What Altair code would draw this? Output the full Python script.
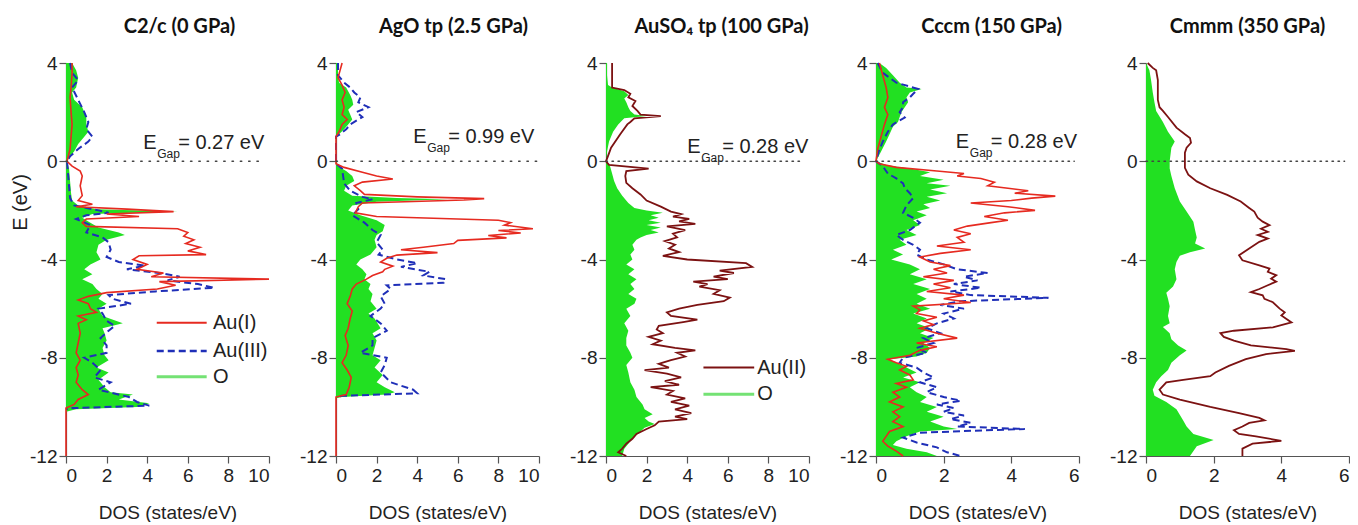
import altair as alt
import pandas as pd

# ---------------- data: (E in eV, DOS in states/eV) ----------------
P1_O = [(4.0,0.3),(3.7,0.5),(3.4,0.6),(3.0,0.5),(2.8,0.3),(2.5,0.4),(2.2,0.8),(1.8,1.0),(1.5,1.0),(1.2,1.1),
        (1.0,0.9),(0.7,0.6),(0.4,0.4),(0.2,0.2),(0.0,0.05),(-0.3,0.15),(-0.8,0.2),(-1.3,0.25),(-1.6,0.3),(-1.8,0.6),
        (-1.95,1.5),(-2.05,5.5),(-2.15,1.3),(-2.3,0.8),(-2.5,1.2),(-2.7,1.6),(-2.9,2.6),(-3.0,2.9),(-3.2,2.0),(-3.4,1.6),
        (-3.7,1.5),(-4.0,1.7),(-4.2,1.2),(-4.4,0.9),(-4.6,1.3),(-4.8,0.8),(-5.0,1.3),(-5.2,1.5),(-5.4,1.8),(-5.6,1.6),
        (-5.8,2.0),(-6.0,1.6),(-6.3,1.8),(-6.6,2.8),(-6.8,1.8),(-7.0,1.9),(-7.3,2.0),(-7.6,1.8),(-7.9,1.9),(-8.1,2.1),
        (-8.4,1.5),(-8.6,2.1),(-8.9,1.6),(-9.2,1.9),(-9.4,2.2),(-9.5,3.3),(-9.7,2.6),(-9.85,4.1),(-10.0,3.5),(-10.1,0.5),
        (-10.2,0.0),(-12.0,0.0)]
P1_AU1 = [(4.0,0.3),(3.6,0.3),(3.0,0.25),(2.6,0.2),(2.0,0.25),(1.5,0.3),(1.0,0.25),(0.5,0.2),(0.0,0.05),(-0.2,0.3),
          (-0.4,0.7),(-0.6,0.8),(-1.0,0.7),(-1.4,0.8),(-1.6,0.6),(-1.75,1.3),(-1.85,0.5),(-1.95,3.0),(-2.05,5.3),(-2.15,2.0),
          (-2.25,3.6),(-2.35,1.0),(-2.5,0.8),(-2.65,1.0),(-2.75,5.5),(-2.9,6.0),(-3.05,5.8),(-3.2,6.3),(-3.35,5.9),(-3.5,6.6),
          (-3.65,6.0),(-3.8,6.9),(-3.85,3.6),(-4.0,3.3),(-4.2,4.0),(-4.4,3.5),(-4.55,4.8),(-4.7,4.2),(-4.8,10.0),(-4.9,4.6),
          (-5.05,5.4),(-5.2,4.5),(-5.35,2.0),(-5.5,1.1),(-5.65,0.6),(-5.8,1.1),(-6.0,1.2),(-6.15,1.5),(-6.3,0.6),(-6.45,1.0),
          (-6.6,0.6),(-7.0,0.7),(-7.4,0.6),(-7.8,0.5),(-8.1,0.7),(-8.4,0.5),(-8.7,0.6),(-9.0,0.5),(-9.3,0.8),(-9.5,1.1),
          (-9.7,0.6),(-9.9,0.4),(-10.05,0.0),(-12.0,0.0)]
P1_AU3 = [(4.0,0.2),(3.6,0.3),(3.3,0.6),(3.0,0.3),(2.5,0.6),(2.0,0.9),(1.6,1.1),(1.3,1.0),(1.0,1.3),(0.8,1.1),
          (0.5,0.6),(0.2,0.2),(0.0,0.05),(-0.5,0.1),(-1.0,0.15),(-1.5,0.2),(-1.8,0.4),(-2.0,1.6),(-2.1,2.1),(-2.2,1.0),
          (-2.35,0.5),(-2.6,1.2),(-2.9,1.0),(-3.1,1.8),(-3.3,2.1),(-3.6,2.2),(-3.9,2.0),(-4.1,2.6),(-4.25,3.9),(-4.4,3.0),
          (-4.55,4.6),(-4.7,5.6),(-4.85,5.0),(-5.0,6.5),(-5.15,7.3),(-5.3,4.4),(-5.45,2.1),(-5.6,2.3),(-5.8,3.2),(-6.0,1.6),
          (-6.2,1.8),(-6.5,2.0),(-6.7,2.4),(-6.9,2.1),(-7.2,1.7),(-7.5,2.0),(-7.8,2.0),(-8.0,0.9),(-8.2,1.3),(-8.5,1.7),
          (-8.8,1.4),(-9.0,2.2),(-9.3,1.6),(-9.6,3.1),(-9.8,3.5),(-9.95,4.1),(-10.05,0.3),(-10.1,0.0)]

P2_O = [(4.0,0.1),(3.5,0.1),(3.2,0.15),(3.0,0.5),(2.7,0.7),(2.5,0.8),(2.3,0.85),(2.1,0.6),(1.9,0.7),(1.7,0.8),
        (1.5,0.6),(1.3,0.4),(1.1,0.15),(1.0,0.0),(0.0,0.0),(-0.2,0.1),(-0.4,0.5),(-0.6,0.8),(-0.8,0.9),(-1.0,0.5),
        (-1.2,0.4),(-1.4,0.8),(-1.5,3.0),(-1.55,5.5),(-1.65,2.0),(-1.8,0.8),(-2.0,0.6),(-2.2,1.2),(-2.4,2.0),(-2.6,2.4),
        (-2.85,2.3),(-3.0,2.0),(-3.2,1.9),(-3.5,2.0),(-3.8,1.7),(-4.0,1.2),(-4.2,1.0),(-4.4,1.3),(-4.6,1.5),(-4.8,1.4),
        (-5.0,1.7),(-5.2,1.6),(-5.4,1.8),(-5.7,1.7),(-6.0,2.0),(-6.2,1.6),(-6.4,1.9),(-6.8,2.2),(-7.0,1.8),(-7.3,2.0),
        (-7.6,1.9),(-7.9,1.8),(-8.1,2.2),(-8.4,1.9),(-8.7,2.3),(-9.0,2.0),(-9.2,2.4),(-9.4,2.9),(-9.5,2.5),(-9.6,0.3),
        (-9.65,0.0),(-12.0,0.0)]
P2_AU1 = [(4.0,0.3),(3.7,0.2),(3.4,0.1),(3.1,0.3),(2.8,0.45),(2.5,0.3),(2.2,0.4),(1.9,0.3),(1.7,0.55),(1.5,0.3),
          (1.2,0.15),(1.0,0.0),(-0.1,0.0),(-0.25,0.4),(-0.45,1.3),(-0.6,2.0),(-0.72,2.8),(-0.85,1.3),(-1.0,0.9),(-1.2,1.2),
          (-1.35,1.4),(-1.45,4.0),(-1.52,7.3),(-1.58,6.3),(-1.7,1.3),(-1.85,1.1),(-2.1,0.95),(-2.25,2.0),(-2.4,8.0),(-2.5,8.6),
          (-2.6,8.3),(-2.75,9.7),(-2.82,8.0),(-2.92,9.1),(-3.02,7.5),(-3.12,8.4),(-3.22,6.0),(-3.35,5.8),(-3.5,4.3),(-3.6,3.2),
          (-3.72,5.0),(-3.82,3.0),(-3.95,2.5),(-4.1,2.2),(-4.27,2.8),(-4.4,2.4),(-4.5,2.3),(-4.65,1.8),(-4.8,1.5),(-5.0,1.0),
          (-5.2,0.8),(-5.5,0.7),(-5.8,0.55),(-6.1,0.8),(-6.4,0.7),(-6.8,0.6),(-7.1,0.45),(-7.5,0.6),(-7.9,0.5),(-8.2,0.3),
          (-8.5,0.55),(-8.8,0.75),(-9.2,0.65),(-9.5,0.5),(-9.6,0.0),(-12.0,0.0)]
P2_AU3 = [(4.0,0.1),(3.5,0.1),(3.2,0.4),(3.0,0.7),(2.8,0.9),(2.6,1.2),(2.4,1.1),(2.2,1.6),(2.0,1.0),(1.8,1.3),
          (1.7,1.1),(1.5,0.7),(1.3,0.5),(1.1,0.2),(1.0,0.0),(-0.1,0.0),(-0.3,0.3),(-0.6,0.35),(-0.9,0.4),(-1.2,0.7),
          (-1.45,1.3),(-1.55,1.8),(-1.7,1.0),(-1.95,1.1),(-2.2,0.8),(-2.5,1.4),(-2.8,1.8),(-3.0,2.2),(-3.3,2.0),(-3.6,2.3),
          (-3.8,2.1),(-4.0,3.0),(-4.15,4.0),(-4.3,3.2),(-4.5,4.6),(-4.65,4.3),(-4.8,5.4),(-4.95,5.3),(-5.05,2.5),(-5.2,2.7),
          (-5.5,2.2),(-5.8,2.4),(-6.0,2.2),(-6.3,1.7),(-6.6,2.2),(-6.9,2.5),(-7.2,1.8),(-7.5,1.8),(-7.8,1.2),(-8.0,2.5),
          (-8.3,2.4),(-8.6,2.2),(-9.0,2.7),(-9.3,3.8),(-9.45,4.0),(-9.55,0.3),(-9.6,0.0)]

P3_O = [(4.0,0.05),(3.5,0.05),(3.1,0.1),(3.0,0.3),(2.85,0.9),(2.7,1.1),(2.55,0.9),(2.4,1.0),(2.2,1.1),(2.05,1.2),
        (1.9,1.4),(1.84,2.0),(1.75,0.9),(1.5,0.6),(1.2,0.35),(0.8,0.15),(0.4,0.05),(0.0,0.0),(-0.2,0.2),(-0.5,0.3),
        (-0.8,0.4),(-1.1,0.55),(-1.4,0.8),(-1.7,1.1),(-1.9,1.4),(-2.0,2.0),(-2.1,2.8),(-2.2,2.2),(-2.3,2.6),(-2.4,2.1),
        (-2.5,2.7),(-2.6,2.0),(-2.7,2.7),(-2.8,2.2),(-2.9,2.6),(-3.0,2.0),(-3.1,1.7),(-3.2,1.5),(-3.4,1.3),(-3.6,1.4),
        (-3.8,1.2),(-4.0,1.3),(-4.2,1.0),(-4.4,1.4),(-4.6,1.1),(-4.8,1.5),(-5.0,1.2),(-5.2,1.4),(-5.4,1.1),(-5.6,1.5),
        (-5.8,1.4),(-6.0,1.0),(-6.3,1.2),(-6.6,0.9),(-6.9,1.1),(-7.2,1.0),(-7.5,1.0),(-7.8,1.2),(-8.0,1.3),(-8.3,1.0),
        (-8.6,1.1),(-9.0,1.2),(-9.3,1.4),(-9.6,1.5),(-9.9,1.8),(-10.1,1.9),(-10.3,2.3),(-10.45,1.9),(-10.6,2.1),(-10.7,2.4),
        (-10.85,1.9),(-11.0,1.7),(-11.3,1.3),(-11.7,0.9),(-12.0,0.8)]
P3_AU2 = [(4.0,0.3),(3.5,0.3),(3.0,0.3),(2.9,0.9),(2.75,1.2),(2.6,1.1),(2.45,1.45),(2.25,1.3),(2.05,1.55),(1.9,1.7),
          (1.84,2.7),(1.75,1.4),(1.6,1.2),(1.5,1.05),(1.1,0.7),(0.55,0.25),(0.15,0.07),(0.0,0.0),(-0.15,0.15),(-0.3,2.1),
          (-0.4,1.0),(-0.6,0.95),(-0.88,1.0),(-1.1,1.3),(-1.35,1.7),(-1.6,2.0),(-1.85,2.7),(-2.05,3.2),(-2.15,3.7),(-2.25,3.3),
          (-2.35,4.1),(-2.45,3.6),(-2.55,4.4),(-2.65,3.0),(-2.8,3.9),(-2.95,3.3),(-3.1,3.5),(-3.25,2.9),(-3.4,3.4),(-3.55,3.1),
          (-3.7,3.6),(-3.85,2.8),(-4.0,4.0),(-4.15,6.9),(-4.3,7.2),(-4.45,5.6),(-4.55,6.3),(-4.7,5.3),(-4.8,6.0),(-4.9,4.3),
          (-5.0,5.0),(-5.1,4.6),(-5.25,5.6),(-5.4,5.3),(-5.55,6.1),(-5.7,5.8),(-5.85,4.5),(-6.0,3.6),(-6.15,3.0),(-6.3,3.2),
          (-6.45,4.5),(-6.55,3.8),(-6.7,2.6),(-6.85,2.5),(-7.0,2.8),(-7.15,2.1),(-7.3,2.7),(-7.45,2.3),(-7.6,3.4),(-7.7,4.4),
          (-7.8,3.5),(-7.95,3.9),(-8.1,3.2),(-8.25,2.6),(-8.4,3.1),(-8.5,1.9),(-8.65,3.0),(-8.8,3.7),(-8.95,2.9),(-9.1,3.6),
          (-9.2,2.2),(-9.35,3.3),(-9.5,3.0),(-9.65,3.9),(-9.8,3.2),(-9.95,4.1),(-10.1,3.4),(-10.25,4.2),(-10.4,3.4),(-10.5,4.0),
          (-10.6,2.6),(-10.75,2.4),(-10.9,2.0),(-11.1,1.5),(-11.3,1.3),(-11.5,1.0),(-11.7,0.8),(-11.85,0.6),(-12.0,1.0)]

P4_O = [(4.0,0.1),(3.8,0.3),(3.5,0.5),(3.2,0.7),(3.0,0.9),(2.94,1.35),(2.8,1.0),(2.6,0.9),(2.4,0.95),(2.2,0.85),
        (2.0,0.75),(1.8,0.7),(1.6,0.65),(1.4,0.5),(1.1,0.4),(0.8,0.3),(0.4,0.15),(0.0,0.0),(-0.15,0.3),(-0.3,1.0),
        (-0.45,1.6),(-0.6,1.3),(-0.75,2.0),(-0.9,1.5),(-1.0,2.2),(-1.15,1.6),(-1.3,2.1),(-1.45,1.5),(-1.6,1.9),(-1.75,1.4),
        (-1.9,1.6),(-2.05,1.2),(-2.2,1.5),(-2.4,1.1),(-2.6,1.3),(-2.8,0.9),(-3.0,1.2),(-3.2,0.7),(-3.4,0.9),(-3.6,0.5),
        (-3.8,0.8),(-4.0,0.45),(-4.2,1.0),(-4.4,1.3),(-4.6,1.0),(-4.8,1.5),(-5.0,1.1),(-5.2,1.6),(-5.4,1.2),(-5.6,1.5),
        (-5.8,1.2),(-6.0,1.6),(-6.2,1.1),(-6.4,1.5),(-6.6,1.2),(-6.8,1.6),(-7.0,1.3),(-7.2,1.7),(-7.4,1.4),(-7.6,1.6),
        (-7.8,1.5),(-7.95,1.2),(-8.06,0.4),(-8.2,0.6),(-8.4,0.9),(-8.6,1.2),(-8.8,0.8),(-9.0,1.3),(-9.2,1.0),(-9.4,1.2),
        (-9.6,1.5),(-9.8,1.3),(-10.0,1.8),(-10.2,1.5),(-10.4,2.0),(-10.6,1.6),(-10.8,2.0),(-10.9,2.4),(-11.0,1.3),(-11.2,0.9),
        (-11.4,0.6),(-11.55,0.5),(-11.7,0.9),(-11.85,1.5),(-12.0,1.8)]
P4_AU1 = [(4.0,0.1),(3.5,0.2),(3.0,0.3),(2.6,0.35),(2.2,0.25),(1.9,0.35),(1.5,0.25),(1.0,0.15),(0.5,0.05),(0.0,0.0),
          (-0.1,0.1),(-0.25,0.6),(-0.4,1.8),(-0.5,2.6),(-0.6,2.4),(-0.7,3.1),(-0.85,3.5),(-1.0,3.3),(-1.1,3.9),(-1.2,4.5),
          (-1.3,4.1),(-1.42,5.3),(-1.5,4.6),(-1.6,4.0),(-1.7,2.8),(-1.85,3.9),(-2.0,4.7),(-2.1,3.8),(-2.25,3.2),(-2.4,3.9),
          (-2.5,3.4),(-2.64,2.7),(-2.8,2.3),(-2.95,2.8),(-3.1,2.4),(-3.3,2.6),(-3.45,1.8),(-3.6,2.8),(-3.75,1.9),(-3.9,1.3),
          (-4.1,1.6),(-4.25,2.2),(-4.4,1.7),(-4.55,2.1),(-4.7,1.4),(-4.85,2.3),(-5.0,1.7),(-5.15,2.2),(-5.3,1.5),(-5.45,2.6),
          (-5.6,2.0),(-5.75,2.8),(-5.9,1.1),(-6.05,1.3),(-6.2,1.2),(-6.35,1.8),(-6.5,1.4),(-6.65,1.7),(-6.8,1.3),(-7.0,1.8),
          (-7.2,2.4),(-7.4,1.2),(-7.55,1.8),(-7.7,1.3),(-7.9,1.0),(-8.06,0.35),(-8.2,0.6),(-8.35,0.9),(-8.5,0.7),(-8.7,1.0),
          (-8.9,1.1),(-9.05,0.6),(-9.2,0.9),(-9.4,0.5),(-9.6,0.7),(-9.8,0.4),(-10.0,0.8),(-10.2,0.5),(-10.4,0.7),(-10.6,0.5),
          (-10.8,0.8),(-11.0,0.4),(-11.2,0.3),(-11.4,0.2),(-11.6,0.35),(-11.8,0.6),(-12.0,0.8)]
P4_AU3 = [(4.0,0.05),(3.6,0.2),(3.2,0.6),(2.94,1.25),(2.75,1.1),(2.6,1.0),(2.4,0.8),(2.2,0.8),(2.0,0.7),(1.78,0.85),
          (1.5,0.5),(1.2,0.35),(0.8,0.2),(0.4,0.08),(0.0,0.0),(-0.2,0.2),(-0.5,0.35),(-0.7,0.6),(-0.9,0.8),(-1.1,0.85),
          (-1.3,1.0),(-1.5,1.1),(-1.8,0.9),(-2.1,0.8),(-2.3,1.1),(-2.5,1.3),(-2.8,1.0),(-3.0,0.6),(-3.2,0.8),(-3.4,1.1),
          (-3.6,1.3),(-3.8,1.2),(-4.0,1.5),(-4.2,2.0),(-4.4,2.4),(-4.55,3.3),(-4.7,2.6),(-4.85,3.0),(-5.0,2.3),(-5.15,3.1),
          (-5.3,2.2),(-5.45,2.8),(-5.56,5.1),(-5.7,2.5),(-5.85,1.9),(-6.0,2.6),(-6.2,2.0),(-6.4,2.3),(-6.6,1.8),(-6.8,1.5),
          (-7.0,1.9),(-7.2,1.4),(-7.4,1.7),(-7.6,1.2),(-7.8,1.5),(-8.0,0.8),(-8.2,0.7),(-8.4,1.2),(-8.6,1.4),(-8.8,1.7),
          (-9.0,1.3),(-9.2,1.8),(-9.4,1.5),(-9.6,2.0),(-9.75,2.5),(-9.9,1.8),(-10.05,2.3),(-10.2,2.0),(-10.35,2.6),(-10.5,2.2),
          (-10.65,2.8),(-10.8,2.4),(-10.9,4.4),(-11.05,1.3),(-11.25,0.8),(-11.45,1.2),(-11.65,1.8),(-11.85,2.1),(-12.0,2.5)]

P5_O = [(4.0,0.0),(3.7,0.1),(3.3,0.15),(2.8,0.2),(2.4,0.25),(2.05,0.3),(1.6,0.5),(1.2,0.65),(0.8,0.85),(0.55,0.75),
        (0.0,0.7),(-0.3,0.7),(-0.6,0.75),(-1.1,0.85),(-1.64,1.0),(-2.05,1.2),(-2.46,1.4),(-2.8,1.45),(-3.1,1.5),(-3.35,1.45),
        (-3.55,1.75),(-3.7,1.3),(-3.85,1.0),(-4.1,0.9),(-4.4,0.85),(-4.8,0.9),(-5.1,0.8),(-5.35,0.6),(-5.6,0.65),(-5.9,0.7),
        (-6.3,0.65),(-6.6,0.7),(-6.75,0.5),(-7.0,0.7),(-7.25,0.75),(-7.5,0.95),(-7.7,1.2),(-7.9,1.0),(-8.2,0.75),(-8.5,0.65),
        (-8.75,0.45),(-9.0,0.3),(-9.3,0.2),(-9.55,0.25),(-9.8,0.6),(-10.1,0.9),(-10.55,1.1),(-10.8,1.2),(-11.1,1.4),(-11.35,2.0),
        (-11.6,1.5),(-12.0,1.3)]
P5_AU2 = [(4.0,0.05),(3.8,0.2),(3.7,0.3),(3.3,0.35),(2.5,0.35),(2.2,0.4),(2.05,0.5),(1.8,0.65),(1.37,0.9),(1.1,1.15),
          (0.95,1.3),(0.75,1.33),(0.55,1.2),(0.35,1.15),(-0.27,1.15),(-0.55,1.25),(-0.82,1.5),(-1.1,1.9),(-1.37,2.4),(-1.64,2.8),
          (-1.9,3.05),(-2.05,3.2),(-2.3,3.3),(-2.46,3.45),(-2.6,3.65),(-2.75,3.4),(-2.87,3.6),(-3.0,3.3),(-3.15,3.6),(-3.28,3.35),
          (-3.55,3.05),(-3.83,2.75),(-4.03,2.85),(-4.24,3.35),(-4.37,3.65),(-4.5,3.6),(-4.64,3.85),(-4.78,3.7),(-4.9,3.85),(-5.05,3.6),
          (-5.2,3.35),(-5.33,3.1),(-5.46,3.45),(-5.6,3.5),(-5.74,3.75),(-6.0,3.95),(-6.15,4.1),(-6.28,4.0),(-6.56,4.3),(-6.76,3.75),
          (-6.9,2.6),(-7.0,2.2),(-7.15,2.3),(-7.3,2.6),(-7.5,3.1),(-7.65,4.15),(-7.72,4.4),(-7.85,3.55),(-8.06,2.95),(-8.33,2.45),
          (-8.6,2.05),(-8.75,1.9),(-8.9,1.1),(-9.0,0.6),(-9.3,0.4),(-9.5,0.5),(-9.7,1.0),(-10.0,1.9),(-10.25,2.75),(-10.45,3.35),
          (-10.55,3.5),(-10.65,3.05),(-10.8,2.85),(-10.95,2.6),(-11.1,2.75),(-11.2,3.25),(-11.38,4.0),(-11.5,3.15),(-11.7,2.85),(-12.0,2.85)]

TITLES = ["C2/c (0 GPa)", "AgO tp (2.5 GPa)", "AuSO\u2084 tp (100 GPa)", "Cccm (150 GPa)", "Cmmm (350 GPa)"]
GAPS = ["= 0.27 eV", "= 0.99 eV", "= 0.28 eV", "= 0.28 eV", None]
X_MAX = [10, 10, 10, 6, 6]
X_TICKS = [[0, 2, 4, 6, 8, 10]] * 3 + [[0, 2, 4, 6]] * 2
Y_TICKS = [-12, -8, -4, 0, 4]

# ---------------- styling ----------------
GREEN = "#22e022"
GREEN_LEG = "#74e274"
RED = "#e62a20"
BLUE = "#1f2fb8"
DARKRED = "#7c1212"
AXIS_FONT = "Liberation Sans"
TITLE_FONT = "Lato"
TXT = "#222222"
AX = "#555555"
W, H = 203, 393


def frame(pairs):
    return pd.DataFrame({"E": [p[0] for p in pairs],
                         "DOS": [p[1] for p in pairs],
                         "i": list(range(len(pairs)))})


ONE = pd.DataFrame({"k": [0]})


def panel(idx, area_pairs, line_specs, gap_xy, dot_end, dot_dash, legend, title_dx):
    xs = alt.Scale(domain=[0, X_MAX[idx]], nice=False, zero=True)
    ys = alt.Scale(domain=[-12, 4], nice=False)
    xaxis = alt.Axis(values=X_TICKS[idx], title="DOS (states/eV)", grid=False,
                     labelFont=AXIS_FONT, labelFontSize=19, labelColor=TXT,
                     titleFont=AXIS_FONT, titleFontSize=19, titleFontWeight="normal",
                     titleColor=TXT, titlePadding=18, tickSize=7, labelPadding=3,
                     domainColor=AX, tickColor=AX, domainWidth=1.2, tickWidth=1.2)
    ykw = dict(values=Y_TICKS, grid=False, labelExpr="'' + datum.value",
               labelFont=AXIS_FONT, labelFontSize=19, labelColor=TXT,
               tickSize=7, labelPadding=2, domainColor=AX, tickColor=AX,
               domainWidth=1.2, tickWidth=1.2)
    if idx == 0:
        yaxis = alt.Axis(title="E (eV)", titleFont=AXIS_FONT, titleFontSize=20,
                         titleFontWeight="normal", titleColor=TXT, titleX=-40, titleY=139,
                         titleBaseline="alphabetic", titleAlign="center", **ykw)
    else:
        yaxis = alt.Axis(title=None, **ykw)

    layers = [
        alt.Chart(frame(area_pairs)).mark_area(orient="horizontal", color=GREEN,
                                               fillOpacity=1, strokeWidth=0).encode(
            x=alt.X("DOS:Q", scale=xs, axis=xaxis),
            x2=alt.datum(0),
            y=alt.Y("E:Q", scale=ys, axis=yaxis))
    ]
    for pairs, color, width, dash in line_specs:
        kw = dict(color=color, strokeWidth=width)
        if dash:
            kw["strokeDash"] = dash
        layers.append(alt.Chart(frame(pairs)).mark_line(**kw).encode(
            x="DOS:Q", y="E:Q", order="i:Q"))

    layers.append(alt.Chart(ONE).mark_rule(color="#444444", strokeDash=dot_dash, strokeWidth=1.4,
                                           strokeCap="round").encode(
        x=alt.datum(0), x2=alt.datum(dot_end), y=alt.datum(0)))

    if GAPS[idx]:
        gx, gy = gap_xy
        for txt, size, dx, dy in [("E", 20, 0, 0), ("Gap", 12, 14, 9), (GAPS[idx], 20, 35, 0)]:
            layers.append(alt.Chart(ONE).mark_text(text=txt, align="left", baseline="alphabetic",
                                                   font=AXIS_FONT, fontSize=size, color=TXT,
                                                   dx=dx, dy=dy).encode(
                x=alt.datum(gx), y=alt.datum(gy)))

    if legend:
        lx1, lx2, lx3, items = legend
        for label, color, width, dash, ey in items:
            kw = dict(color=color, strokeWidth=width)
            if dash:
                kw["strokeDash"] = dash
            layers.append(alt.Chart(ONE).mark_rule(**kw).encode(
                x=alt.datum(lx1), x2=alt.datum(lx2), y=alt.datum(ey)))
            layers.append(alt.Chart(ONE).mark_text(text=label, align="left", baseline="middle",
                                                   font=AXIS_FONT, fontSize=20, color=TXT).encode(
                x=alt.datum(lx3), y=alt.datum(ey)))

    return alt.layer(*layers).properties(
        width=W, height=H,
        title=alt.TitleParams(TITLES[idx], font=TITLE_FONT, fontSize=20, fontWeight="bold",
                              color="#111111", anchor="middle", dx=title_dx, offset=1,
                              baseline="alphabetic"))


DASH = [7, 4]
p1 = panel(0, P1_O, [(P1_AU3, BLUE, 2, DASH), (P1_AU1, RED, 1.6, None)], (3.8, 0.50), 9.8, [1.5, 6.8],
           (4.47, 6.93, 7.24, [("Au(I)", RED, 2, None, -6.57),
                               ("Au(III)", BLUE, 2.5, DASH, -7.73),
                               ("O", GREEN_LEG, 3, None, -8.77)]), 12)
p2 = panel(1, P2_O, [(P2_AU3, BLUE, 2, DASH), (P2_AU1, RED, 1.6, None)], (3.8, 0.74), 9.9, [1.5, 6.8],
           None, 16)
p3 = panel(2, P3_O, [(P3_AU2, DARKRED, 1.8, None)], (4.0, 0.34), 9.7, [1.5, 4.5],
           (4.8, 7.3, 7.45, [("Au(II)", DARKRED, 2, None, -8.4),
                             ("O", GREEN_LEG, 3, None, -9.49)]), 14)
p4 = panel(3, P4_O, [(P4_AU3, BLUE, 2, DASH), (P4_AU1, RED, 1.6, None)], (2.36, 0.54), 5.86, [1.5, 4.5],
           None, 14)
p5 = panel(4, P5_O, [(P5_AU2, DARKRED, 1.8, None)], None, 5.87, [1.5, 4.5], None, 0)

chart = alt.hconcat(p1, p2, p3, p4, p5, spacing=67, bounds="flush").resolve_scale(
    x="independent", y="independent").properties(
    padding={"left": 2, "top": 9, "right": 0, "bottom": 0}).configure_view(stroke=None)

chart.save("out.html", embed_options={"renderer": "svg", "actions": False})
